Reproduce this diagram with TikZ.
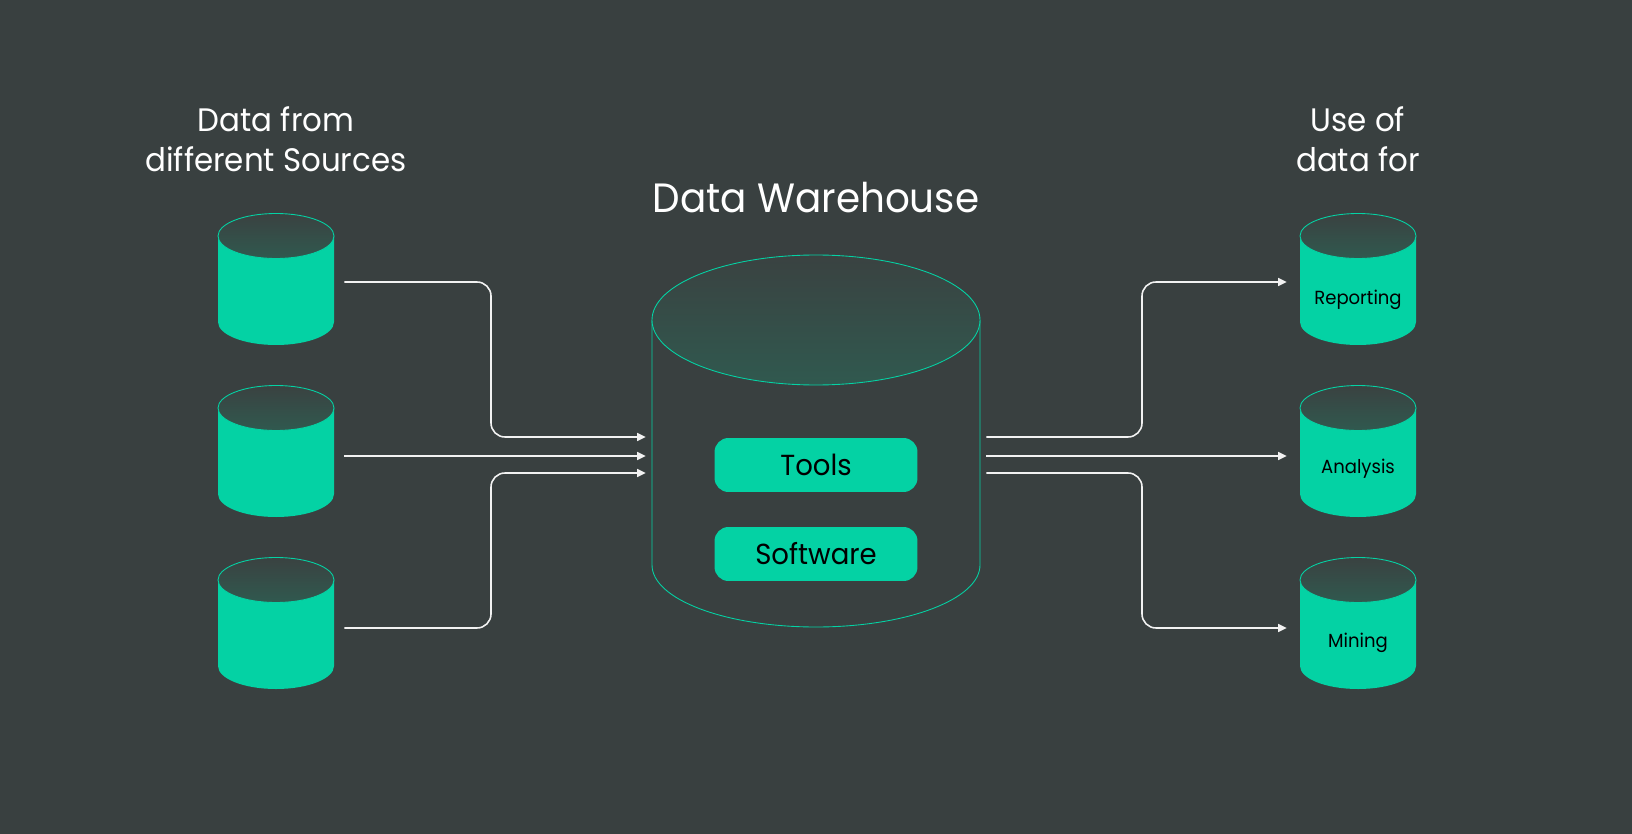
\documentclass[tikz,border=0pt]{standalone}
\usepackage{fontspec}
\setmainfont{Poppins}[FakeStretch=0.95]
\usetikzlibrary{arrows.meta}
\definecolor{cbg}{HTML}{394040}
\definecolor{cteal}{HTML}{04D2A4}
\definecolor{clidtop}{HTML}{3A4241}
\definecolor{clidbot}{HTML}{30594F}
\definecolor{cwire}{HTML}{F2F2F2}
\tikzset{
  head/.style   ={text=white,align=center,font=\fontsize{18.5}{22.5}\selectfont},
  title/.style  ={text=white,font=\fontsize{23.3}{28}\selectfont},
  tag/.style    ={fill=cteal,text=black,rounded corners=0.28cm,font=\fontsize{16.5}{20}\selectfont,
                  minimum width=4.06cm,minimum height=1.08cm,inner sep=0pt},
  small/.style  ={text=black,font=\fontsize{10.8}{13}\selectfont,inner sep=1pt},
  lid/.style    ={draw=cteal,line width=0.5pt,top color=clidtop,bottom color=clidbot},
  srcport/.style={minimum width=2.72cm,minimum height=1cm,inner sep=0pt},
  useport/.style={minimum width=2.84cm,minimum height=1cm,inner sep=0pt},
  whport/.style ={minimum width=6.8cm,minimum height=1cm,inner sep=0pt},
  arr/.style    ={-{Triangle[length=1.7mm,width=1.6mm]},cwire,line width=0.9pt,rounded corners=0.28cm},
}
\newcommand{\cylbody}[1]{%
\begin{scope}[shift={#1}]
 \fill[cteal] (-58,22) -- (-58,108) arc[start angle=180,end angle=360,x radius=58,y radius=-23]
   -- (58,22) -- cycle;
 \path[lid] (0,22) ellipse [x radius=58,y radius=22.5];
\end{scope}}

\begin{document}
\begin{tikzpicture}[x=0.02cm,y=-0.02cm]
 \fill[cbg] (0,0) rectangle (1632,834);
 % left and right columns
 \foreach \cx/\cy in {276/214,276/386,276/558,1358/214,1358/386,1358/558}
   {\cylbody{(\cx,\cy)}}
 \node[srcport] (src1) at (276,282) {};
 \node[srcport] (src2) at (276,456) {};
 \node[srcport] (src3) at (276,628) {};
 \node[useport] (use1) at (1358,282) {};
 \node[useport] (use2) at (1358,456) {};
 \node[useport] (use3) at (1358,628) {};
 \node[small] (report) at (1358,300) {Reporting};
 \node[small] (analysis) at (1358,469) {Analysis};
 \node[small] (mining) at (1358,643) {Mining};
 \node[head] (srchead) at (276,139) {Data from\\different Sources};
 \node[head] (usehead) at (1358,139) {Use of\\data for};
 % warehouse
 \draw[cteal,line width=0.5pt] (652,320) -- (652,565) arc[start angle=180,end angle=0,x radius=164,y radius=62]
   -- (980,320);
 \path[lid] (816,320) ellipse [x radius=164,y radius=65];
 \node[title] (whtitle) at (816,198) {Data Warehouse};
 \node[tag] (tools) at (816,465) {Tools};
 \node[tag] (soft) at (816,554) {Software};
 \node[whport] (wh1) at (816,437) {};
 \node[whport] (wh2) at (816,456) {};
 \node[whport] (wh3) at (816,473) {};
 \coordinate (busl) at (491,0);
 \coordinate (busr) at (1142,0);
 % connectors
 \draw[arr] (src1.east) -- (busl |- src1.east) -- (busl |- wh1.west) -- (wh1.west);
 \draw[arr] (src2.east) -- (wh2.west);
 \draw[arr] (src3.east) -- (busl |- src3.east) -- (busl |- wh3.west) -- (wh3.west);
 \draw[arr] (wh1.east) -- (busr |- wh1.east) -- (busr |- use1.west) -- (use1.west);
 \draw[arr] (wh2.east) -- (use2.west);
 \draw[arr] (wh3.east) -- (busr |- wh3.east) -- (busr |- use3.west) -- (use3.west);
\end{tikzpicture}
\end{document}
